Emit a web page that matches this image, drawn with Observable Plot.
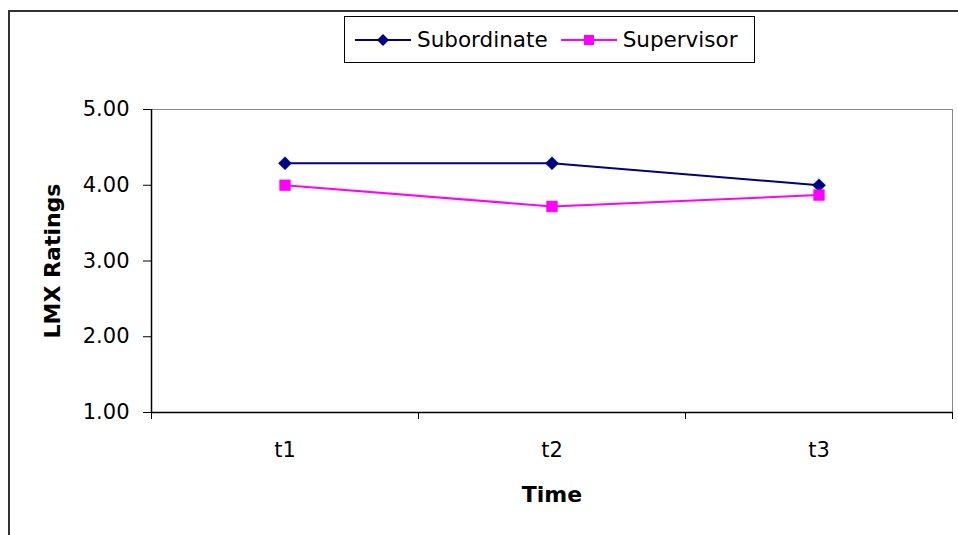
<!DOCTYPE html>
<html>
<head>
<meta charset="utf-8">
<script src="https://cdn.jsdelivr.net/npm/d3@7"></script>
<script src="https://cdn.jsdelivr.net/npm/@observablehq/plot@0.6"></script>
<style>
  html, body { margin: 0; padding: 0; background: #fff; overflow: hidden; }
  #wrap { position: relative; width: 958px; height: 535px; font-family: "DejaVu Sans", sans-serif; }
  #outer { position: absolute; left: 8px; top: 10px; width: 1000px; height: 600px;
           border-left: 2px solid #333; border-top: 2px solid #333; box-sizing: border-box; pointer-events: none; }
  #legend { position: absolute; left: 344px; top: 16px; width: 411px; height: 47px; box-sizing: border-box;
            border: 1px solid #000; background: #fff; display: flex; align-items: center; padding-left: 10px;
            font-size: 21.5px; color: #000; }
  #legend .item { display: flex; align-items: center; }
  #legend svg { display: block; margin-right: 6px; }
  #legend .item + .item { margin-left: 13px; }
</style>
</head>
<body>
<div id="wrap">
  <div id="chart"></div>
  <div id="outer"></div>
  <div id="legend"></div>
</div>
<script>
const categories = ["t1", "t2", "t3"];
const subordinate = [4.29, 4.29, 4.00];
const supervisor = [4.00, 3.72, 3.87];
const yTicks = [1, 2, 3, 4, 5];
const seriesNames = ["Subordinate", "Supervisor"];
const seriesColors = ["#000080", "#FF00FF"];
const xTitle = "Time";
const yTitle = "LMX Ratings";

const rows = [];
categories.forEach((c, i) => {
  rows.push({cat: c, idx: i, series: seriesNames[0], value: subordinate[i]});
  rows.push({cat: c, idx: i, series: seriesNames[1], value: supervisor[i]});
});
const subRows = rows.filter(d => d.series === seriesNames[0]);
const supRows = rows.filter(d => d.series === seriesNames[1]);

const chart = Plot.plot({
  width: 958,
  height: 535,
  marginLeft: 151,
  marginRight: 6,
  marginTop: 109,
  marginBottom: 123,
  style: {fontFamily: "DejaVu Sans, sans-serif", background: "transparent", color: "#000"},
  x: {domain: [0, categories.length], axis: null},
  y: {domain: [yTicks[0], yTicks[yTicks.length - 1]], axis: null},
  marks: [
    Plot.frame({stroke: "#888"}),
    Plot.axisY({ticks: yTicks, tickFormat: d3.format(".2f"), tickSize: 8, tickPadding: 14,
                fontSize: 21, label: null, stroke: "#000", strokeWidth: 1}),
    Plot.axisX({ticks: d3.range(categories.length + 1), tickFormat: () => "", tickSize: 7,
                label: null, stroke: "#000"}),
    Plot.ruleY([yTicks[0]], {stroke: "#000", strokeWidth: 1.5}),
    Plot.ruleX([0], {stroke: "#000", strokeWidth: 1.5}),
    Plot.text(categories, {x: (d, i) => i + 0.5, text: d => d, frameAnchor: "bottom",
                           dy: 38, fontSize: 21, lineAnchor: "middle", fill: "#000"}),
    Plot.text([xTitle], {frameAnchor: "bottom", dy: 82, fontSize: 22, fontWeight: "bold",
                         lineAnchor: "middle", fill: "#000"}),
    Plot.text([yTitle], {frameAnchor: "left", dx: -99, rotate: -90, fontSize: 22, fontWeight: "bold",
                         textAnchor: "middle", lineAnchor: "middle", fill: "#000"}),
    Plot.line(subRows, {x: d => d.idx + 0.5, y: "value", stroke: seriesColors[0], strokeWidth: 2}),
    Plot.line(supRows, {x: d => d.idx + 0.5, y: "value", stroke: seriesColors[1], strokeWidth: 2}),
    Plot.dot(subRows, {x: d => d.idx + 0.5, y: "value", symbol: "diamond2", r: 5.9,
                       fill: seriesColors[0], stroke: seriesColors[0], strokeWidth: 0.5}),
    Plot.dot(supRows, {x: d => d.idx + 0.5, y: "value", symbol: "square", r: 6.1,
                       fill: seriesColors[1], stroke: seriesColors[1], strokeWidth: 0.5})
  ]
});
document.getElementById("chart").appendChild(chart);

// legend
const legend = d3.select("#legend");
seriesNames.forEach((name, i) => {
  const item = legend.append("div").attr("class", "item");
  const svg = item.append("svg").attr("width", 56).attr("height", 20);
  svg.append("line").attr("x1", 0).attr("x2", 56).attr("y1", 10).attr("y2", 10)
     .attr("stroke", seriesColors[i]).attr("stroke-width", 2);
  if (i === 0) {
    svg.append("path").attr("d", "M28,4L34,10L28,16L22,10Z").attr("fill", seriesColors[i]);
  } else {
    svg.append("rect").attr("x", 23).attr("y", 5).attr("width", 10).attr("height", 10).attr("fill", seriesColors[i]);
  }
  item.append("span").text(name);
});
</script>
</body>
</html>
